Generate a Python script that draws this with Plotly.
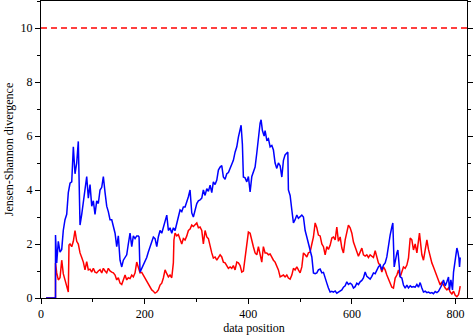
import plotly.graph_objects as go

blue_x = [9.7, 28, 28, 30.3, 33.4, 36.7, 40, 43, 46.3, 49.6, 52.7, 56, 59.3, 62.4, 65.6, 68.9, 72, 75.3, 78.6, 81.7,
          84.9, 88.2, 91.3, 94.6, 97.9, 101, 104.2, 107.5, 110.6, 113.9, 117.2, 120.3, 123.6, 126.8, 129.9, 133.2,
          136.5, 139.6, 142.9, 146.1, 149.2, 152.5, 155.8, 158.9, 162.2, 165.4, 168.5, 171.8, 175.1, 178.2, 181.5,
          184.7, 187.8, 189.2, 191.1, 194.4, 197.5, 200.8, 204, 207.1, 210.4, 213.7, 216.8, 220.1, 223.4, 226.4,
          229.7, 233, 236.1, 239.4, 242.7, 245.8, 249, 252.3, 255.4, 258.7, 262, 265, 268.3, 271.6, 274.7, 278,
          281.3, 284.4, 287.6, 290.9, 294, 297.3, 300.6, 303.7, 306.9, 310.2, 313.3, 316.6, 319.9, 323, 326.3,
          329.5, 332.6, 335.9, 339.2, 342.3, 345.6, 348.8, 351.9, 355.2, 358.5, 361.6, 364.9, 368.1, 371.2, 374.5,
          377.8, 380.9, 384.2, 386.1, 388.6, 390.5, 393.8, 397.1, 400.2, 403.5, 406.8, 409.8, 413.1, 416.4, 419.5,
          422.8, 424.7, 427.2, 430.5, 432.4, 435.7, 438.8, 442.1, 445.4, 448.5, 451.7, 455, 458.1, 461.4, 464.7,
          467.8, 471, 474.3, 476.3, 477.4, 480.7, 484, 487.1, 490.3, 493.6, 496.7, 500, 503.3, 506.4, 509.7, 512.9,
          516, 519.3, 522.6, 525.7, 529, 532.2, 535.3, 538.6, 541.9, 545, 548.3, 551.5, 554.6, 557.9, 561.2, 564.3,
          567.6, 570.8, 573.9, 577.2, 580.5, 583.6, 586.9, 590.1, 593.2, 596.5, 599.8, 602.9, 606.2, 609.4, 612.5,
          615.8, 619.1, 622.2, 625.5, 628.7, 631.8, 635.1, 638.4, 641.5, 644.8, 648, 651.1, 654.4, 657.7, 660.8,
          664.1, 667.3, 670.4, 673.7, 677, 678.9, 681.5, 683.4, 686.7, 688.6, 690.5, 693, 696.3, 699.4, 702.7, 706,
          709.1, 712.4, 715.6, 718.7, 722, 725.3, 728.4, 731.6, 734.9, 738, 741.3, 744.6, 747.7, 751, 754.2, 757.3,
          760.6, 763.9, 767, 770.3, 773.5, 776.6, 779.9, 783.2, 786.3, 788.2, 790.9, 794, 796, 799.8, 802.5, 804.5,
          806.4, 807.6, 808.9]
blue_y = [0, 0, 2.33, 1.3, 2.1, 1.7, 1.8, 2.5, 2.9, 3.1, 3.9, 4.25, 4.3, 5.6, 4.6, 5.0, 5.8, 2.7, 3.1, 3.6,
          4.2, 4.5, 3.7, 4.2, 3.4, 3.6, 3.1, 3.6, 3.5, 4.0, 4.1, 4.5, 3.9, 3.4, 3.2, 2.9,
          2.9, 2.7, 2.4, 1.9, 2.3, 1.4, 1.15, 1.4, 1.5, 1.6, 2.0, 2.4, 1.9, 2.3, 2.2,
          2.3, 2.3, 2.26, 0.96, 1.1, 1.22, 1.35, 1.5, 1.7, 1.9, 2.1, 2.26, 2.2, 1.9, 2.26,
          2.5, 2.4, 2.6, 2.78, 3.07, 2.5, 2.6, 2.4, 2.6, 2.5, 2.78, 3.0, 3.26, 3.2, 3.37, 3.37,
          3.55, 3.75, 4.0, 3.15, 3.0, 3.3, 3.5, 3.6, 3.63, 3.7, 4.0, 3.8, 4.05, 3.95, 4.18,
          3.9, 4.3, 4.2, 4.37, 4.74, 4.85, 4.9, 4.48, 4.4, 4.6, 4.65, 4.8, 5.0, 5.1, 5.4,
          5.6, 5.96, 6.33, 6.4, 5.7, 4.48, 4.45, 4.3, 4.5, 3.93, 4.5, 4.67, 4.85, 5.37, 5.96,
          6.48, 6.6, 6.2, 6.0, 6.2, 5.85, 5.9, 5.6, 5.65, 5.48, 5.0, 4.8, 5.0, 4.9, 4.48,
          5.1, 5.3, 5.37, 5.4, 4.0, 3.8, 3.26, 2.78, 2.9, 3.07, 2.95, 3.0, 3.07, 3.0, 2.5, 2.26,
          2.0, 1.78, 1.52, 0.93, 0.9, 0.93, 1.04, 1.07, 0.93, 0.95, 0.78, 0.55, 0.37, 0.22, 0.25, 0.22,
          0.26, 0.18, 0.22, 0.26, 0.3, 0.4, 0.45, 0.6, 0.5, 0.55, 0.5, 0.37, 0.42, 0.55, 0.5,
          0.6, 0.65, 0.74, 0.96, 0.8, 0.74, 0.7, 0.8, 0.93, 0.9, 1.04, 1.15, 1.22, 1.04, 1.22,
          1.3, 1.52, 2.0, 2.33, 2.63, 2.78, 1.15, 1.4, 1.67, 1.78, 1.15, 0.78, 0.74, 0.48, 0.37, 0.48,
          0.37, 0.45, 0.4, 0.42, 0.4, 0.5, 0.4, 0.57, 0.37, 0.22, 0.25, 0.2, 0.22, 0.18, 0.2, 0.16,
          0.24, 0.2, 0.25, 0.37, 0.48, 0.67, 0.45, 0.6, 0.78, 0.3, 0.67, 0.3, 0.96, 1.48, 1.85, 1.7,
          1.48, 1.15, 1.5]

red_x = [9.7, 28, 28, 30.3, 33.4, 36.7, 40, 43, 46.3, 49.6, 52.7, 54, 56, 59.3, 62.4, 65.6, 67.6, 68.9, 72, 75.3,
         78.6, 81.7, 84.9, 88.2, 91.3, 94.6, 97.9, 101, 104.2, 107.5, 110.6, 113.9, 117.2, 120.3, 123.6, 126.8,
         129.9, 133.2, 136.5, 139.6, 142.9, 146.1, 149.2, 152.5, 155.8, 158.9, 162.2, 165.4, 168.5, 171.8, 175.1,
         178.2, 181.5, 184.7, 187.8, 191.1, 194.4, 197.5, 200.8, 204, 207.1, 210.4, 213.7, 216.8, 220.1, 223.4,
         226.4, 229.7, 233, 236.1, 239.4, 242.7, 245.8, 249, 252.3, 255.4, 256.5, 258.7, 262, 265, 268.3, 271.6,
         274.7, 278, 281.3, 284.4, 287.6, 290.9, 294, 297.3, 300.6, 303.7, 306.9, 310.2, 313.3, 316.6, 319.9, 323,
         326.3, 329.5, 332.6, 335.9, 339.2, 342.3, 345.6, 348.8, 351.9, 355.2, 358.5, 361.6, 364.9, 368.1, 371.2,
         374.5, 377.8, 380.9, 384.2, 387.4, 390.5, 393.8, 397.1, 400.2, 403.5, 406.8, 409.8, 413.1, 416.4, 419.5,
         422.8, 426, 429.1, 432.4, 435.7, 438.8, 442.1, 445.4, 448.5, 451.7, 455, 458.1, 461.4, 464.7, 467.8, 471,
         474.3, 477.4, 480.7, 484, 487.1, 490.3, 493.6, 496.7, 500, 503.3, 506.4, 509.7, 512.9, 516, 519.3, 522.6,
         525.7, 529, 532.2, 535.3, 538.6, 541.9, 545, 548.3, 551.5, 554.6, 557.9, 561.2, 564.3, 567.6, 570.8,
         573.9, 577.2, 580.5, 583.6, 586.9, 590.1, 593.2, 596.5, 599.8, 602.9, 606.2, 609.4, 612.5, 615.8, 619.1,
         622.2, 625.5, 628.7, 631.8, 635.1, 638.4, 641.5, 644.8, 648, 651.1, 654.4, 657.7, 660.8, 664.1, 667.3,
         670.4, 673.7, 677, 680.1, 683.4, 686.7, 689.8, 693, 696.3, 699.4, 702.7, 706, 709.1, 712.4, 715.6, 718.7,
         722, 725.3, 730.3, 733, 734.9, 738, 741.3, 744.6, 747.7, 751, 754.2, 757.3, 760.6, 763.9, 767, 770.3,
         773.5, 776.6, 779.9, 783.2, 786.3, 789.6, 792.8, 796, 799.3, 802.5, 805.6, 807.6, 808.9]
red_y = [0, 0, 1.3, 0.93, 0.67, 0.75, 1.4, 0.9, 0.67, 0.4, 0.22, 1.96, 2.0, 1.9, 2.1, 2.5, 2.2, 2.1, 2.0, 1.67,
         1.5, 1.33, 1.04, 1.35, 1.04, 1.07, 0.96, 1.1, 0.96, 0.93, 1.0, 1.05, 0.93, 1.1, 1.0, 0.93,
         1.1, 1.0, 0.96, 0.93, 0.85, 0.67, 0.75, 0.55, 0.5, 0.67, 0.85, 0.67, 0.75, 0.72, 0.85,
         0.78, 0.93, 1.33, 1.1, 0.93, 0.95, 0.85, 0.75, 0.6, 0.5, 0.4, 0.3, 0.25, 0.18, 0.22,
         0.3, 0.48, 0.55, 0.74, 1.04, 0.9, 0.78, 0.85, 0.75, 1.3, 2.15, 2.4, 2.3, 2.35, 2.15, 2.0,
         2.2, 2.15, 2.3, 2.5, 2.55, 2.7, 2.65, 2.7, 2.78, 2.6, 2.63, 2.5, 2.0, 2.5, 2.26, 2.2,
         1.9, 1.67, 1.48, 1.52, 1.4, 1.5, 1.6, 1.52, 1.33, 1.3, 1.22, 1.1, 1.15, 1.1, 1.2,
         1.04, 1.33, 1.3, 1.2, 0.96, 1.0, 1.52, 2.15, 2.44, 2.4, 2.07, 1.9, 1.67, 1.6, 1.9,
         1.6, 1.33, 1.9, 1.67, 1.67, 1.6, 1.63, 1.5, 1.4, 1.33, 1.2, 1.04, 0.78, 0.82, 0.85, 0.78,
         0.85, 0.74, 0.7, 0.85, 1.1, 1.04, 1.15, 1.04, 0.93, 1.15, 1.67, 1.6, 1.52, 1.67, 1.7, 2.0,
         2.26, 2.78, 2.6, 2.33, 2.3, 2.0, 1.9, 1.6, 1.9, 1.8, 1.95, 2.22, 2.26, 2.15, 2.63,
         2.1, 2.26, 1.85, 1.67, 2.15, 2.4, 2.7, 2.6, 2.4, 2.07, 1.9, 1.67, 1.55, 1.7, 1.85,
         1.6, 1.55, 1.6, 1.5, 1.6, 1.55, 1.5, 1.75, 1.5, 1.3, 1.2, 0.96, 1.15, 1.04, 0.85,
         0.72, 0.6, 0.4, 0.37, 0.74, 0.85, 1.04, 0.78, 0.96, 1.15, 1.1, 1.22, 1.48, 2.22, 2.15, 1.78,
         2.0, 1.67, 2.4, 2.0, 1.6, 1.4, 1.85, 2.15, 1.8, 1.48, 1.3, 1.15, 0.96, 0.78, 0.67, 0.48,
         0.6, 0.48, 0.37, 0.3, 0.37, 0.22, 0.15, 0.25, 0.1, 0.05, 0.12, 0.3, 0.44]

threshold = 10
x_range = [0, 822]
y_range = [0, 11]
x_ticks = [0, 200, 400, 600, 800]
y_ticks = [0, 2, 4, 6, 8, 10]

fig = go.Figure()
fig.add_trace(go.Scatter(x=x_range, y=[threshold, threshold], mode="lines",
                         line=dict(color="#ff0000", width=1.5, dash="6px,4px"), hoverinfo="skip"))
fig.add_trace(go.Scatter(x=red_x, y=red_y, mode="lines", line=dict(color="#ff0000", width=1.5)))
fig.add_trace(go.Scatter(x=blue_x, y=blue_y, mode="lines", line=dict(color="#0000ff", width=1.5)))

font = dict(family="Liberation Serif", size=12, color="black")
fig.update_layout(
    width=476, height=336,
    margin=dict(l=41, r=9, t=1, b=38, autoexpand=False),
    paper_bgcolor="white", plot_bgcolor="white",
    showlegend=False,
    font=font,
    xaxis=dict(range=x_range, tickvals=x_ticks, ticks="outside", ticklen=5, tickwidth=1, tickcolor="black",
               minor=dict(dtick=100, ticks="outside", ticklen=3, tickcolor="black"),
               showline=True, linecolor="black", linewidth=1, mirror="allticks",
               showgrid=False, zeroline=False, title=dict(text="data position", standoff=2, font=font),
               tickfont=font, automargin=False),
    yaxis=dict(range=y_range, tickvals=y_ticks, ticks="outside", ticklen=5, tickwidth=1, tickcolor="black",
               minor=dict(dtick=1, ticks="outside", ticklen=3, tickcolor="black"),
               showline=True, linecolor="black", linewidth=1, mirror="allticks",
               showgrid=False, zeroline=False, title=dict(text="Jensen-Shannon divergence", standoff=4, font=font),
               tickfont=font, automargin=False),
)
fig.write_html("out.html", config={"displayModeBar": False},
               post_script="document.body.style.margin='0';document.body.style.padding='0';")
